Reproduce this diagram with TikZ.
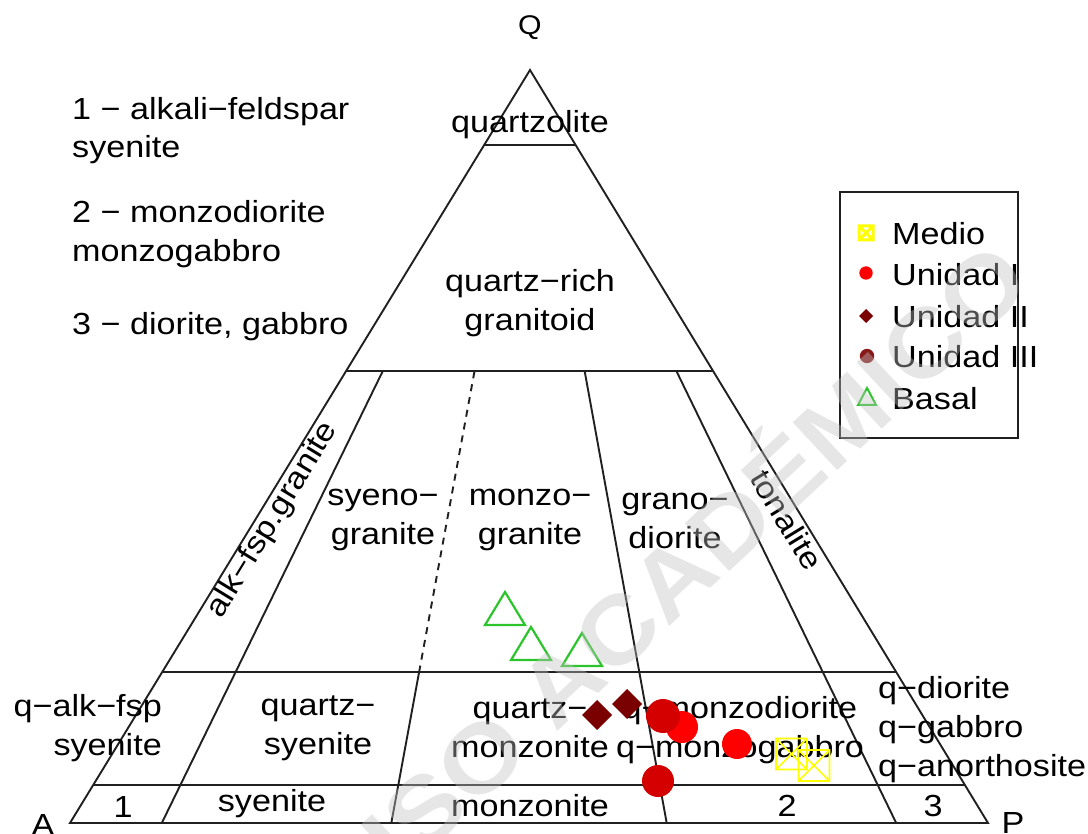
\documentclass[tikz,border=0pt]{standalone}
\usepackage{fontspec}
\setmainfont{Liberation Sans}[FakeStretch=1.12]
\usepackage{xcolor}
\usepackage{tikz}
\usetikzlibrary{calc}
\definecolor{unired}{HTML}{FF0000}
\definecolor{unidark}{HTML}{D40000}
\definecolor{maroon}{HTML}{7A0000}
\definecolor{basalgreen}{HTML}{2BC52B}
\definecolor{medioyellow}{HTML}{FFFF00}
\definecolor{lineblack}{HTML}{202020}
\definecolor{stampgray}{HTML}{C0C0C0}

\begin{document}
\begin{tikzpicture}[x=1pt, y=-1pt,
    every node/.style={inner sep=0pt, font=\fontsize{30.5}{39}\selectfont},
    field/.style={align=center},
    border/.style={draw=lineblack, line width=1.9pt},
    basal/.pic={\draw[basalgreen, line width=2.2pt] (0,-19) -- (20,14) -- (-20,14) -- cycle;},
    medio/.pic={\draw[medioyellow, line width=1.6pt] (-15.5,-15.5) rectangle (15.5,15.5)
      (-15.5,-15.5) -- (15.5,15.5) (-15.5,15.5) -- (15.5,-15.5);},
    unidadtwo/.pic={\fill[maroon] (0,-15) -- (15,0) -- (0,15) -- (-15,0) -- cycle;}]

\useasboundingbox (0,0) rectangle (1088,834);

% corners of the QAP triangle
\coordinate (A) at (70,823);
\coordinate (P) at (988,823);
\coordinate (Q) at (530,70);

\draw[border] (A) -- (P) -- (Q) -- cycle;
\foreach \q in {0.05,0.2,0.6,0.9}
  \draw[border] ($(A)!\q!(Q)$) -- ($(P)!\q!(Q)$);
\foreach \r in {0.1,0.65,0.9}
  \draw[border] ($(A)!\r!(P)$) -- ($(A)!\r!(P)!0.6!(Q)$);
\draw[border] ($(A)!0.35!(P)$) -- ($(A)!0.35!(P)!0.2!(Q)$);
\draw[border, dash pattern=on 7pt off 6pt] ($(A)!0.35!(P)!0.2!(Q)$) -- ($(A)!0.35!(P)!0.6!(Q)$);

\node (vq) at (530,28) {\fontsize{27}{30}\selectfont Q};
\node[anchor=north] (va) at (43,814) {A};
\node[anchor=north] (vp) at (1013,812) {P};

% field names
\node (qzl) at (530,125) {quartzolite};
\node[field] (qrg) at (530,303) {quartz−rich\\granitoid};
\node[rotate=58.6] (afg) at (273,520) {alk−fsp.granite};
\node[field] (syg) at (383,520) {syeno−\\granite};
\node[field] (mzg) at (530,520) {monzo−\\granite};
\node[field] (grd) at (675,521) {grano−\\diorite};
\node[rotate=-58.6] (ton) at (787,520) {tonalite};
\node[align=right, anchor=east] (qas) at (162,728) {q−alk−fsp\\syenite};
\node[field] (qsy) at (318,728) {quartz−\\syenite};
\node[field] (qmz) at (530,728) {quartz−\\monzonite};
\node[field] (qmd) at (740,730) {q−monzodiorite\\q−monzogabbro};
\node[align=left, anchor=west] (qdi) at (878,730) {q−diorite\\q−gabbro\\q−anorthosite};
\node (f1) at (123,807) {1};
\node (sye) at (272,804) {syenite};
\node (mzn) at (530,806) {monzonite};
\node (f2) at (787,806) {2};
\node (f3) at (933,806) {3};

\foreach \t/\y [count=\i] in {1 − alkali−feldspar/120, syenite/158, 2 − monzodiorite/223,
    monzogabbro/262, {3 − diorite, gabbro}/335}
  \node[anchor=base west] (note\i) at (72,\y) {\t};

% legend
\node[draw=lineblack, line width=2.6pt, minimum width=178pt, minimum height=246pt] (leg) at (929,315) {};
\foreach \t/\y [count=\i] in {Medio/245, Unidad I/286, Unidad II/328, Unidad III/368, Basal/410}
  \node[anchor=base west] (key\i) at (892,\y) {\t};
\draw[medioyellow, line width=3pt] (859,226) rectangle (873,240) (859,226) -- (873,240) (859,240) -- (873,226);
\fill[unired] (866,273) circle (6.7);
\fill[maroon] (866,309) -- (873,316) -- (866,323) -- (859,316) -- cycle;
\fill[maroon, opacity=0.9] (867,356) circle (7.2);
\draw[basalgreen, line width=2pt] (867,388) -- (876,405) -- (858,405) -- cycle;

% samples
\pic at (505,611) {basal};
\pic at (531,646) {basal};
\pic at (582,652) {basal};
\pic at (597,715) {unidadtwo};
\pic at (627,704) {unidadtwo};
\fill[unired] (682,727) circle (16) (737,744) circle (15);
\fill[unidark] (663,716) circle (17) (658,781) circle (16);
\pic at (791.5,754) {medio};
\pic at (814,765.5) {medio};

\node[rotate=43, text=stampgray, opacity=0.4, font=\fontsize{95}{95}\selectfont\bfseries] (stamp) at (672,568) {USO ACADÉMICO};
\end{tikzpicture}
\end{document}
